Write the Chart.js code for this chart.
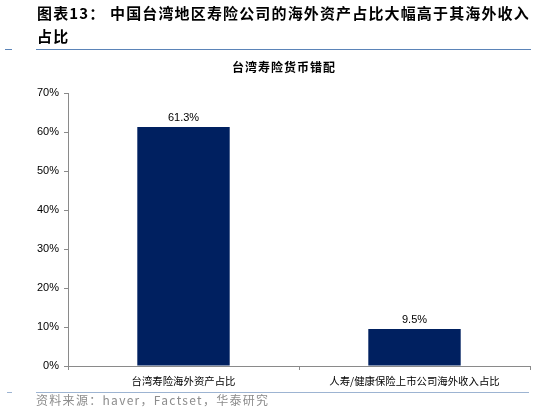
<!DOCTYPE html>
<html><head><meta charset="utf-8">
<script src="https://cdn.jsdelivr.net/npm/chart.js@4"></script>
<style>
html,body{margin:0;padding:0;background:#fff;width:537px;height:417px;overflow:hidden;}
#wrap{position:relative;width:537px;height:417px;}
canvas{position:absolute;left:0;top:0;}
.t{position:absolute;font-family:"Noto Sans CJK SC",sans-serif;white-space:nowrap;}
#h1{left:37px;top:1px;font-size:15px;font-weight:bold;letter-spacing:1.15px;line-height:23px;color:#000;}
#ct{left:0;width:568px;text-align:center;top:59px;line-height:16px;font-size:12px;font-weight:bold;color:#000;letter-spacing:1px;}
#src{left:36px;top:392px;line-height:16px;font-size:12px;color:#8c8c8c;letter-spacing:1.3px;}
.ln{position:absolute;height:1px;}
</style></head>
<body><div id="wrap">
<canvas id="c" width="537" height="417"></canvas>
<div class="t" id="h1">图表13： 中国台湾地区寿险公司的海外资产占比大幅高于其海外收入<br>占比</div>
<div class="ln" style="left:36px;top:49px;width:495px;background:#5b84b8;"></div>
<div class="ln" style="left:5px;top:49px;width:7px;background:#5b84b8;"></div>
<div class="t" id="ct">台湾寿险货币错配</div>
<div class="ln" style="left:36px;top:392px;width:493px;background:#9db4d2;"></div>
<div class="ln" style="left:7px;top:392px;width:5px;background:#9db4d2;"></div>
<div class="t" id="src">资料来源：haver，Factset，华泰研究</div>
</div>
<script>
const categories = ["台湾寿险海外资产占比", "人寿/健康保险上市公司海外收入占比"];
const values = [61.3, 9.5];
const yTicks = [0, 10, 20, 30, 40, 50, 60, 70];

const labelPlugin = {
  id: 'barLabels',
  afterDatasetsDraw(chart) {
    const ctx = chart.ctx;
    const meta = chart.getDatasetMeta(0);
    ctx.save();
    ctx.font = '11px "Liberation Sans", Arial, sans-serif';
    ctx.fillStyle = '#000';
    ctx.textAlign = 'center';
    ctx.textBaseline = 'bottom';
    meta.data.forEach((bar, i) => {
      ctx.fillText(values[i].toFixed(1) + '%', bar.x, bar.y - 3.5);
    });
    ctx.restore();
  }
};

new Chart(document.getElementById('c'), {
  type: 'bar',
  data: {
    labels: categories,
    datasets: [{
      data: values,
      backgroundColor: '#002060',
      borderWidth: 0,
      categoryPercentage: 1,
      barPercentage: 0.4
    }]
  },
  options: {
    responsive: false,
    animation: false,
    devicePixelRatio: 1,
    layout: { padding: { left: 0, right: 7, top: 93, bottom: 21 } },
    plugins: { legend: { display: false }, tooltip: { enabled: false }, title: { display: false } },
    scales: {
      x: {
        afterFit(s) { s.height = 30; },
        border: { color: '#8a8a8a', width: 1 },
        grid: {
          drawOnChartArea: false, drawTicks: true, tickLength: 4, offset: true,
          color: (c) => (c.index === categories.length ? 'rgba(0,0,0,0)' : '#8a8a8a')
        },
        ticks: { padding: 5, color: '#000', font: { family: '"Noto Sans CJK SC", sans-serif', size: 10.4 }, maxRotation: 0 }
      },
      y: {
        min: 0, max: 70,
        afterFit(s) { s.width = 68; },
        afterBuildTicks(s) { s.ticks = yTicks.map(v => ({ value: v })); },
        border: { color: '#8a8a8a', width: 1 },
        grid: { drawOnChartArea: false, drawTicks: true, tickLength: 4, color: '#8a8a8a' },
        ticks: { padding: 5, color: '#000', font: { family: '"Liberation Sans", Arial, sans-serif', size: 11 }, callback: v => v + '%' }
      }
    }
  },
  plugins: [labelPlugin]
});
</script>
</body></html>
